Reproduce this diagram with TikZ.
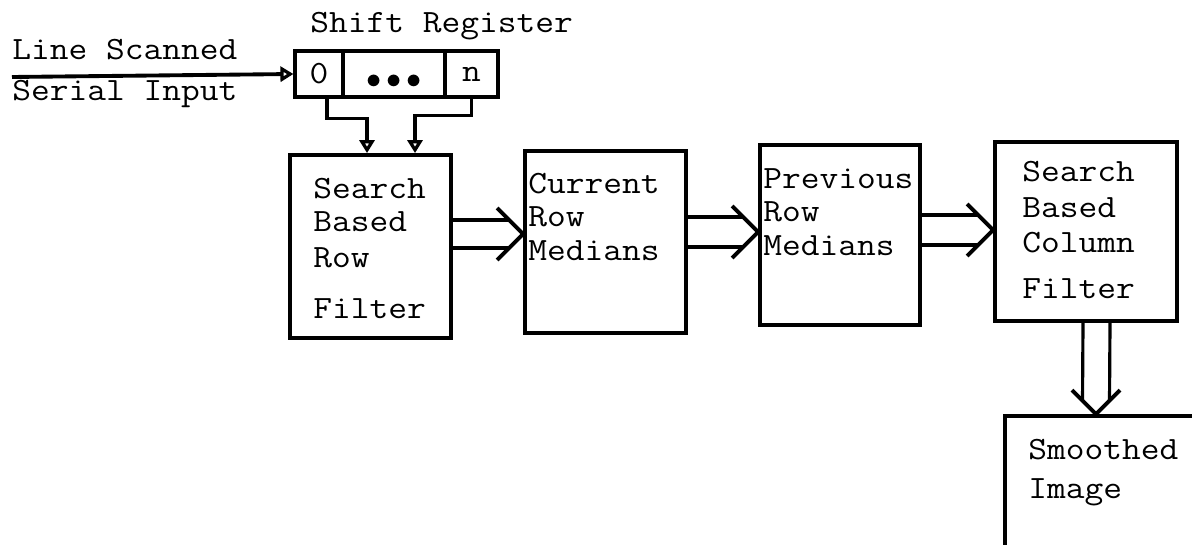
\documentclass[tikz,border=0pt]{standalone}
\usepackage{fontspec}
\setmonofont{Latin Modern Mono}[FakeStretch=1.12]
\usepackage{tikz}
\usetikzlibrary{arrows.meta,calc,positioning}

\begin{document}
\begin{tikzpicture}[x=0.02cm,y=-0.02cm,
  blk/.style={draw,line width=2.2pt,inner sep=0pt},
  cell/.style={draw,line width=1.8pt,minimum height=0.92cm,inner sep=0pt,
    font=\ttfamily\fontsize{18.5}{18.8}\selectfont},
  txt/.style={font=\ttfamily\fontsize{18.5}{18.8}\selectfont,align=left,
    inner sep=0pt,anchor=base west},
  wire/.style={line width=1.8pt},
  chev/.style={line width=2.2pt,line join=miter},
  opentip/.style={-{Triangle[open,length=0.26cm,width=0.3cm,line width=2pt]}}]
  \useasboundingbox (0,0) rectangle (1192,544);
  \clip (0,0) rectangle (1192,544);

  % shift register and serial input
  \node[cell,minimum width=0.96cm] (sr0) at (319,74) {0};
  \node[cell,minimum width=2.04cm] (srdots) at (394,74)
    {\raisebox{-8.5pt}[0pt][0pt]{\fontsize{17}{17}\selectfont${\bullet}\mkern3mu{\bullet}\mkern3mu{\bullet}$}};
  \node[cell,minimum width=1.06cm] (srn) at (471.5,74) {n};
  \node[txt] (srlbl) at (310,33) {Shift Register};
  \coordinate (in) at (12,77);
  \node[txt] (inlbl1) at (12,60) {Line Scanned};
  \node[txt] (inlbl2) at (12,100) {Serial Input};
  \draw[wire,line width=2.2pt,opentip] (in) -- (sr0.west);

  % processing blocks (text nodes sit on their last line)
  \node[blk,minimum width=3.22cm,minimum height=3.66cm] (srf) at (370.5,246.5) {};
  \node[txt] (srftxt) at (313,318) {Search\\Based\\[0.06cm]Row\\[0.34cm]Filter};
  \node[blk,minimum width=3.22cm,minimum height=3.64cm] (cur) at (605.5,242) {};
  \node[txt] (curtxt) at (528,260) {Current\\Row\\Medians};
  \node[blk,minimum width=3.2cm,minimum height=3.6cm] (prev) at (840,235) {};
  \node[txt] (prevtxt) at (763,255) {Previous\\Row\\Medians};
  \node[blk,minimum width=3.64cm,minimum height=3.58cm] (scf) at (1086,231.5) {};
  \node[txt] (scftxt) at (1022,298) {Search\\[0.06cm]Based\\[0.04cm]Column\\[0.24cm]Filter};
  \node[blk,minimum width=4.5cm,minimum height=3.68cm] (smooth) at (1117.5,508) {};
  \node[txt] (smtxt) at (1028,498) {Smoothed\\[0.1cm]Image};

  % taps from the register
  \draw[wire,opentip] ($(sr0.south)+(8,0)$) -- ++(0,20) -| ($(srf.north)+(-3.5,0)$);
  \draw[wire,opentip] (srn.south) -- ++(0,17) -| ($(srf.north)+(44.5,0)$);

  % double arrows
  \coordinate (a1) at (cur.west |- 0,234);
  \draw[wire] (srf.east |- 0,220) -- ($(a1)+(-14,-14)$);
  \draw[wire] (srf.east |- 0,248) -- ($(a1)+(-14,14)$);
  \draw[chev] ($(a1)+(-26,-26)$) -- (a1) -- ($(a1)+(-26,26)$);

  \coordinate (a2) at (prev.west |- 0,232);
  \draw[wire] (cur.east |- 0,217) -- ($(a2)+(-15,-15)$);
  \draw[wire] (cur.east |- 0,247) -- ($(a2)+(-15,15)$);
  \draw[chev] ($(a2)+(-26,-26)$) -- (a2) -- ($(a2)+(-26,26)$);

  \coordinate (a3) at (scf.west |- 0,230);
  \draw[wire] (prev.east |- 0,215) -- ($(a3)+(-15,-15)$);
  \draw[wire] (prev.east |- 0,245) -- ($(a3)+(-15,15)$);
  \draw[chev] ($(a3)+(-26,-26)$) -- (a3) -- ($(a3)+(-26,26)$);

  \coordinate (a4) at ($(smooth.north -| scf.south)+(10,0)$);
  \draw[wire] ($(scf.south)+(-3,0)$) -- ($(a4)+(-13.5,-13.5)$);
  \draw[wire] ($(scf.south)+(24,0)$) -- ($(a4)+(13.5,-13.5)$);
  \draw[chev] ($(a4)+(-24,-24)$) -- (a4) -- ($(a4)+(24,-24)$);
\end{tikzpicture}
\end{document}
